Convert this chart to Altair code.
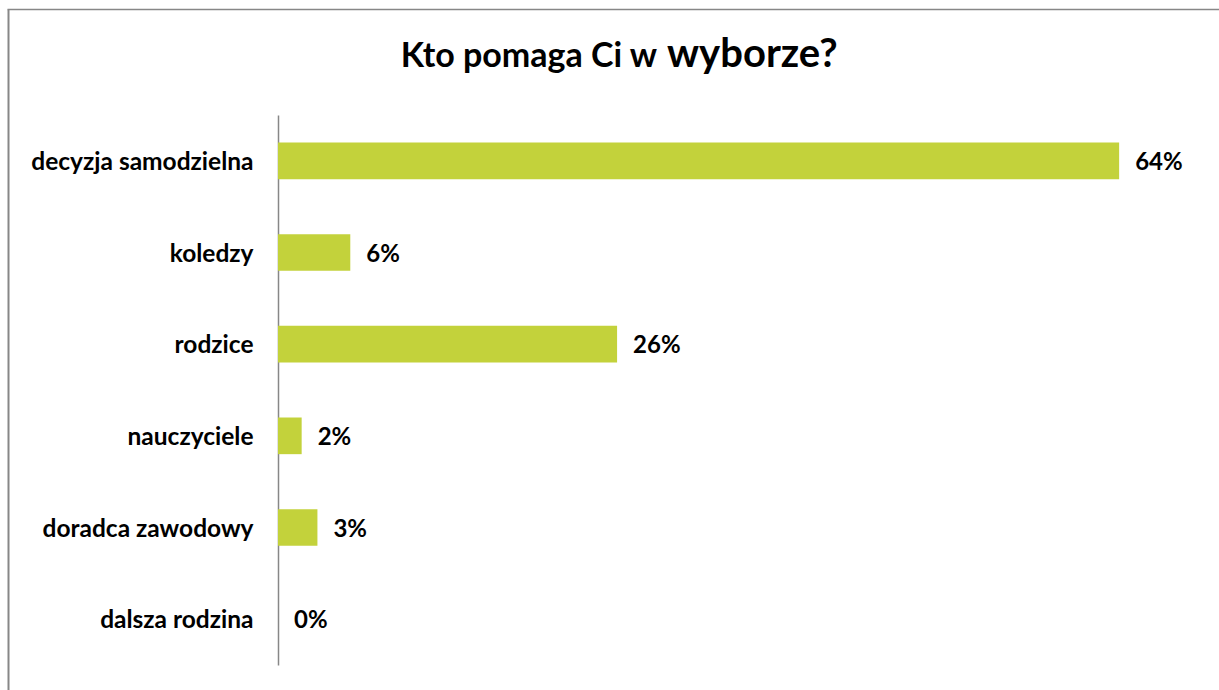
import altair as alt
import pandas as pd

categories = ["decyzja samodzielna", "koledzy", "rodzice", "nauczyciele", "doradca zawodowy", "dalsza rodzina"]
values = [64.0, 5.5, 25.8, 1.8, 3.0, 0.0]
labels = ["64%", "6%", "26%", "2%", "3%", "0%"]

df = pd.DataFrame({"kat": categories, "val": values, "lab": labels})

FONT = "Lato"
BAR = "#C3D23B"
GRAY = "#878787"

base = alt.Chart(df)
y_enc = alt.Y("kat:N", sort=categories,
              scale=alt.Scale(paddingInner=0.6, paddingOuter=0.3),
              axis=alt.Axis(title=None, ticks=False, domain=True, domainColor=GRAY,
                            domainWidth=1.5, labelFontSize=24.5, labelFontWeight="bold",
                            labelColor="black", labelFont=FONT, labelPadding=25,
                            labelLimit=400, labelBaseline="middle", labelOffset=2))
x_enc = alt.X("val:Q", scale=alt.Scale(domain=[0, 70]), axis=None)

bars = base.mark_bar(color=BAR).encode(x=x_enc, y=y_enc)
texts = base.mark_text(align="left", baseline="middle", dx=16, dy=2, font=FONT,
                       fontSize=24, fontWeight="bold", color="black").encode(
    x=x_enc, y=y_enc, text="lab:N")

one = alt.Data(values=[{"a": 1}])
t1 = alt.Chart(one).mark_text(align="right", baseline="alphabetic", font=FONT,
                              fontSize=34, fontWeight="bold", color="black").encode(
    x=alt.value(379), y=alt.value(-48), text=alt.value("Kto pomaga Ci w"))
t2 = alt.Chart(one).mark_text(align="left", baseline="alphabetic", font=FONT,
                              fontSize=40, fontWeight="bold", color="black").encode(
    x=alt.value(389), y=alt.value(-48), text=alt.value("wyborze?"))

border_left = alt.Chart(one).mark_rule(color=GRAY, strokeWidth=2).encode(
    x=alt.value(-269.5), y=alt.value(-105.5), y2=alt.value(600))
border_top = alt.Chart(one).mark_rule(color=GRAY, strokeWidth=1.5).encode(
    x=alt.value(-270.5), x2=alt.value(960), y=alt.value(-105.5))

chart = alt.layer(border_left, border_top, bars, texts, t1, t2).properties(
    width=920, height=550,
    autosize=alt.AutoSizeParams(type="none"),
    padding={"left": 278, "top": 115, "right": 21, "bottom": 25},
).configure_view(strokeWidth=0)

chart.save("out.html", embed_options={"renderer": "svg", "actions": False})
